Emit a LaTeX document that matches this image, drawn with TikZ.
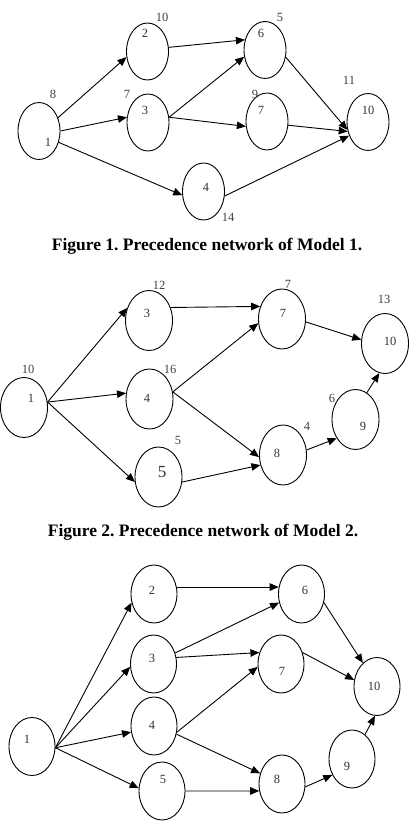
\documentclass[tikz,border=0pt]{standalone}
\usepackage{fontspec}
\setmainfont{Liberation Serif}
\usetikzlibrary{shapes.geometric,arrows.meta}
\frenchspacing
\begin{document}
\begin{tikzpicture}[x=1pt,y=-1pt,
  evA/.style={ellipse,draw,line width=0.9pt,inner sep=0pt,minimum width=42pt,minimum height=57pt},
  evB/.style={ellipse,draw,line width=0.9pt,inner sep=0pt,minimum width=47pt,minimum height=60pt},
  evC/.style={ellipse,draw,line width=0.9pt,inner sep=0pt,minimum width=46pt,minimum height=58pt},
  lbl/.style={inner sep=0pt,text=black!80,font=\fontsize{12.5}{12.5}\selectfont},
  wt/.style={inner sep=0pt,text=black!75,font=\fontsize{12.5}{12.5}\selectfont},
  captxt/.style={inner sep=0pt,font=\fontsize{17.5}{17.5}\selectfont\bfseries},
  arr/.style={-{Triangle[length=9pt,width=7.5pt]},line width=0.9pt}
]
\useasboundingbox (0,0) rectangle (408,824);
% ---------- Figure 1 ----------
\node[evA] (a1) at (39,131) {};
\node[evA] (a2) at (147.5,51.5) {};
\node[evA] (a3) at (148,122.5) {};
\node[evA] (a6) at (265,50) {};
\node[evA] (a7) at (267,121.5) {};
\node[evA] (a10) at (368,122) {};
\node[evA] (a4) at (203.5,191.5) {};
\node[lbl] (la1) at (48,142) {1};
\node[lbl] (la2) at (145,33) {2};
\node[lbl] (la3) at (145,110) {3};
\node[lbl] (la6) at (261,33) {6};
\node[lbl] (la7) at (261,110) {7};
\node[lbl] (la10) at (368,110) {10};
\node[lbl] (la4) at (206,187) {4};
\node[wt] (wa1) at (53,94) {8};
\node[wt] (wa2) at (162,17) {10};
\node[wt] (wa3) at (127,94) {7};
\node[wt] (wa6) at (280,17) {5};
\node[wt] (wa7) at (255,94) {9};
\node[wt] (wa10) at (349,80) {11};
\node[wt] (wa4) at (228,217) {14};
\draw[arr] (a1.35) -- (a2.195);
\draw[arr] (a1.0) -- (a3.166);
\draw[arr] (a1.-30) -- (a4.190);
\draw[arr] (a2.11) -- (a6.153);
\draw[arr] (a3.14) -- (a6.198);
\draw[arr] (a3.14) -- (a7.193);
\draw[arr] (a6.-19) -- (a10.201);
\draw[arr] (a7.-10) -- (a10.205);
\draw[arr] (a4.-12) -- (a10.216);
\node[captxt] (c1) at (207,246) {Figure 1. Precedence network of Model 1.};
% ---------- Figure 2 ----------
\node[evB] (b1) at (24,407.5) {};
\node[evB] (b3) at (149,320.5) {};
\node[evB] (b4) at (149.5,399) {};
\node[evB] (b5) at (158.5,477) {};
\node[evB] (b7) at (282,319) {};
\node[evB] (b8) at (283,455) {};
\node[evB] (b9) at (355.5,419.5) {};
\node[evB] (b10) at (385,343.5) {};
\node[lbl] (lb1) at (31,398) {1};
\node[lbl] (lb3) at (147,313) {3};
\node[lbl] (lb4) at (147,398) {4};
\node[lbl,font=\fontsize{17}{17}\selectfont] (lb5) at (162,472) {5};
\node[lbl] (lb7) at (283,313) {7};
\node[lbl] (lb8) at (277,453) {8};
\node[lbl] (lb9) at (363,426) {9};
\node[lbl] (lb10) at (390,341) {10};
\node[wt] (wb1) at (28,369) {10};
\node[wt] (wb3) at (159,285) {12};
\node[wt] (wb4) at (170,369) {16};
\node[wt] (wb5) at (178,440) {5};
\node[wt] (wb7) at (288,284) {7};
\node[wt] (wb8) at (307,426) {4};
\node[wt] (wb9) at (332,398) {6};
\node[wt] (wb10) at (384,299) {13};
\draw[arr] (b1.13) -- (b3.150);
\draw[arr] (b1.13) -- (b4.166);
\draw[arr] (b1.13) -- (b5.192);
\draw[arr] (b3.31) -- (b7.150);
\draw[arr] (b4.17) -- (b7.190);
\draw[arr] (b4.17) -- (b8.185);
\draw[arr] (b5.-12) -- (b8.204);
\draw[arr] (b7.-7) -- (b10.171);
\draw[arr] (b8.12) -- (b9.225);
\draw[arr] (b9.67) -- (b10.259);
\node[captxt] (c2) at (203,532) {Figure 2. Precedence network of Model 2.};
% ---------- Figure 3 ----------
\node[evC] (k1) at (32,746.5) {};
\node[evC] (k2) at (154,594) {};
\node[evC] (k3) at (153.5,664) {};
\node[evC] (k4) at (154,726) {};
\node[evC] (k5) at (162,791) {};
\node[evC] (k6) at (301.5,594) {};
\node[evC] (k7) at (281,664) {};
\node[evC] (k8) at (282,784) {};
\node[evC] (k9) at (352,759) {};
\node[evC] (k10) at (377,686.5) {};
\node[lbl] (lk1) at (27,739) {1};
\node[lbl] (lk2) at (152,590) {2};
\node[lbl] (lk3) at (152,658) {3};
\node[lbl] (lk4) at (152,725) {4};
\node[lbl] (lk5) at (163,779) {5};
\node[lbl] (lk6) at (305,590) {6};
\node[lbl] (lk7) at (282,671) {7};
\node[lbl] (lk8) at (277,779) {8};
\node[lbl] (lk9) at (347,766) {9};
\node[lbl] (lk10) at (374,686) {10};
\draw[arr] (k1.-3) -- (k2.201);
\draw[arr] (k1.-3) -- (k3.187);
\draw[arr] (k1.-3) -- (k4.195);
\draw[arr] (k1.-3) -- (k5.173);
\draw[arr] (k2.17) -- (k6.163);
\draw[arr] (k3.27) -- (k6.201);
\draw[arr] (k3.16) -- (k7.152);
\draw[arr] (k4.-15) -- (k7.187);
\draw[arr] (k4.-20) -- (k8.154);
\draw[arr] (k5.0) -- (k8.197);
\draw[arr] (k6.-21) -- (k10.121);
\draw[arr] (k7.28) -- (k10.164);
\draw[arr] (k8.-7) -- (k9.219);
\draw[arr] (k9.62) -- (k10.266);
\end{tikzpicture}
\end{document}
